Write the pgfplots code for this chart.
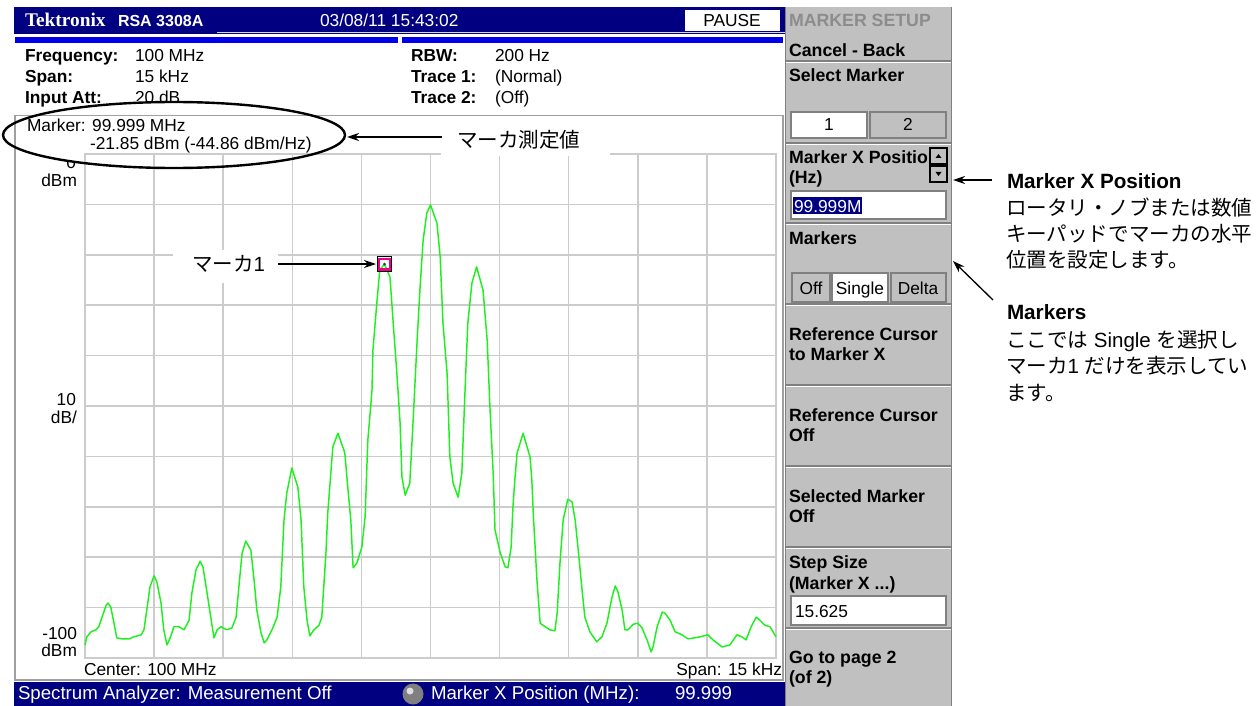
\documentclass[border=0pt]{standalone}
\usepackage{pgfplots}
\usepackage{pgfplotstable}
\pgfplotsset{compat=1.18}
\usepackage{fontspec}
\setmainfont{Liberation Sans}
\newfontfamily\jp{Noto Sans CJK JP}
\newfontfamily\logofont{Liberation Serif}
\usetikzlibrary{arrows.meta}
\definecolor{navy}{RGB}{0,0,128}
\definecolor{bblue}{RGB}{0,0,235}
\definecolor{panel}{RGB}{192,192,192}
\definecolor{gridc}{RGB}{204,204,204}
\definecolor{trace}{RGB}{30,240,30}
\definecolor{dgray}{RGB}{128,128,128}
\definecolor{framec}{RGB}{160,160,160}
\definecolor{greytxt}{RGB}{140,140,140}
\newcommand\fs[1]{\fontsize{#1pt}{#1pt}\selectfont}

\pgfplotstableread{
f dbm
-7.50 -97.4
-7.46 -95.8
-7.37 -94.8
-7.26 -94.4
-7.20 -93.8
-7.13 -91.9
-7.04 -89.5
-7.00 -89.1
-6.94 -89.9
-6.87 -93.1
-6.81 -96.0
-6.70 -96.2
-6.54 -96.2
-6.44 -95.8
-6.28 -95.4
-6.22 -94.4
-6.15 -89.9
-6.09 -85.9
-6.00 -83.7
-5.94 -84.9
-5.85 -89.1
-5.79 -94.4
-5.72 -97.4
-5.65 -96.0
-5.57 -93.8
-5.46 -93.8
-5.35 -94.4
-5.24 -92.5
-5.18 -87.1
-5.09 -82.5
-5.00 -80.8
-4.94 -81.9
-4.85 -87.1
-4.76 -92.5
-4.70 -96.0
-4.63 -94.4
-4.55 -93.8
-4.42 -94.4
-4.31 -94.0
-4.22 -91.9
-4.16 -85.9
-4.09 -79.2
-4.01 -76.8
-3.90 -78.6
-3.83 -84.5
-3.77 -90.5
-3.68 -95.0
-3.61 -97.0
-3.55 -96.4
-3.44 -94.4
-3.33 -91.9
-3.25 -85.9
-3.18 -72.6
-3.12 -67.3
-3.01 -62.3
-2.88 -66.1
-2.81 -72.6
-2.75 -85.9
-2.68 -92.5
-2.62 -95.6
-2.53 -94.4
-2.42 -93.5
-2.36 -91.9
-2.27 -79.2
-2.23 -71.2
-2.12 -58.1
-2.01 -55.4
-1.86 -59.3
-1.79 -66.7
-1.73 -72.6
-1.68 -82.1
-1.60 -81.2
-1.49 -78.0
-1.42 -72.0
-1.36 -56.7
-1.31 -51.4
-1.27 -46.8
-1.25 -38.9
-1.16 -29.0
-1.10 -23.0
-1.00 -21.85
-0.88 -24.4
-0.81 -33.5
-0.73 -43.5
-0.66 -53.4
-0.62 -64.1
-0.55 -67.7
-0.45 -65.3
-0.38 -53.4
-0.29 -36.9
-0.23 -27.0
-0.16 -17.1
-0.08 -11.7
0.00 -10.1
0.14 -13.7
0.21 -20.4
0.27 -33.5
0.36 -43.5
0.42 -60.1
0.49 -65.3
0.60 -68.1
0.68 -63.3
0.75 -46.8
0.81 -33.5
0.90 -25.6
1.00 -22.4
1.14 -27.0
1.23 -36.9
1.29 -50.2
1.36 -63.3
1.40 -74.6
1.51 -79.0
1.62 -81.9
1.68 -82.1
1.75 -78.0
1.79 -70.0
1.83 -64.7
1.88 -59.3
2.01 -55.4
2.16 -60.1
2.20 -64.7
2.23 -71.2
2.31 -84.5
2.38 -93.1
2.49 -93.8
2.59 -94.4
2.70 -94.6
2.75 -91.1
2.81 -81.2
2.88 -72.6
2.98 -68.5
3.07 -69.0
3.14 -72.6
3.20 -78.0
3.29 -86.5
3.35 -91.9
3.46 -94.8
3.61 -96.8
3.72 -95.8
3.83 -93.1
3.94 -87.9
4.01 -85.7
4.07 -86.9
4.16 -90.5
4.22 -94.4
4.29 -94.4
4.40 -93.3
4.50 -93.1
4.59 -94.0
4.70 -96.4
4.79 -98.8
4.83 -97.8
4.92 -93.8
5.03 -90.9
5.09 -91.1
5.20 -92.5
5.31 -94.8
5.46 -95.4
5.59 -96.2
5.74 -96.0
5.85 -95.8
6.02 -95.4
6.13 -96.4
6.33 -97.8
6.50 -97.4
6.65 -95.4
6.76 -95.8
6.85 -96.4
6.96 -93.8
7.07 -91.9
7.15 -92.5
7.26 -93.5
7.37 -93.8
7.50 -95.8
}\tracedata

\begin{document}
\begin{tikzpicture}[x=0.75pt,y=-0.75pt,
  t/.style={anchor=base west, inner sep=0pt, outer sep=0pt},
  tr/.style={anchor=base east, inner sep=0pt, outer sep=0pt},
  tc/.style={anchor=base, inner sep=0pt, outer sep=0pt},
  arr/.style={line width=1pt, -{Stealth[length=9pt,width=6pt]}}]
\path[use as bounding box] (0,0) rectangle (1259,706);

% ---------- title bar ----------
\fill[navy] (14,7) rectangle (785,34);
\draw[white!85!navy, line width=0.75pt] (217,33) -- (785,33);
\fill[bblue] (15,37) rectangle (398,43);
\fill[bblue] (402,37) rectangle (783,43);
\node[t, white] at (25,27) {\logofont\bfseries\fs{14.5}Tektronix};
\node[t, white] at (118,27) {\bfseries\fs{12}RSA 3308A};
\node[t, white] at (320,27) {\fs{13}03/08/11 15:43:02};
\fill[white] (685,10) rectangle (780,31);
\node[tc] at (732,27) {\fs{13}PAUSE};

% ---------- info lines ----------
\node[t] at (25,62) {\bfseries\fs{13}Frequency:};
\node[t] at (135,62) {\fs{13}100 MHz};
\node[t] at (25,83) {\bfseries\fs{13}Span:};
\node[t] at (135,83) {\fs{13}15 kHz};
\node[t] at (25,104) {\bfseries\fs{13}Input Att:};
\begin{scope}
\clip (130,80) rectangle (220,100.5);
\node[t] at (135,104) {\fs{13}20 dB};
\end{scope}
\node[t] at (411,62) {\bfseries\fs{13}RBW:};
\node[t] at (495,62) {\fs{13}200 Hz};
\node[t] at (411,83) {\bfseries\fs{13}Trace 1:};
\node[t] at (495,83) {\fs{13}(Normal)};
\node[t] at (411,104) {\bfseries\fs{13}Trace 2:};
\node[t] at (495,104) {\fs{13}(Off)};

% ---------- plot panel frame ----------
\draw[framec, line width=1pt] (15,115.5) rectangle (783,680);

% ---------- spectrum axis ----------
\begin{scope}[x=1pt,y=1pt]
\begin{axis}[
  at={(63.75pt,-493.5pt)}, anchor=south west,
  scale only axis, width=518.25pt, height=378pt,
  xmin=-7.5, xmax=7.5, ymin=-100, ymax=0,
  xtick={-7.5,-6,-4.5,-3,-1.5,0,1.5,3,4.5,6,7.5},
  ytick={-100,-90,-80,-70,-60,-50,-40,-30,-20,-10,0},
  xticklabels={}, yticklabels={},
  major tick length=0pt,
  grid=major, grid style={gridc, line width=1.1pt},
  axis line style={gridc, line width=1.1pt},
  clip=false]
\addplot[trace, line width=1.1pt, mark=none, line join=round] table[x=f, y=dbm] {\tracedata};
\node[draw=black, line width=0.8pt, minimum size=11pt, inner sep=0pt] at (axis cs:-1,-21.85) {};
\node[draw=magenta, line width=1.6pt, minimum size=8pt, inner sep=0pt] at (axis cs:-1,-21.85) {};
\fill[black!80] (axis cs:-1,-21.85) circle (1.1pt);
\end{axis}
\end{scope}

% y labels
\begin{scope}
\clip (50,163) rectangle (80,172);
\node[tr] at (76,168) {\fs{13}0};
\end{scope}
\node[tr] at (77,186) {\fs{13}dBm};
\node[tr] at (76,405) {\fs{13}10};
\node[tr] at (77,423) {\fs{13}dB/};
\node[tr] at (77,639) {\fs{13}-100};
\node[tr] at (77,656) {\fs{13}dBm};
\node[t] at (84,675) {\fs{13}Center: 100 MHz};
\node[tr] at (782,675) {\fs{13}Span: 15 kHz};

% marker readout
\node[t] at (27,132) {\fs{13}Marker: 99.999 MHz};
\node[t] at (90,150) {\fs{13}-21.85 dBm (-44.86 dBm/Hz)};
\draw[black, line width=1.8pt] (174,135) ellipse [x radius=171, y radius=33];

% annotation: marker reading
\fill[white] (441,118) rectangle (610,156.5);
\draw[arr] (442,137) -- (347,137);
\node[t] at (457,148) {\jp\fs{15.4}マーカ測定値};

% annotation: marker 1
\fill[white] (173,250) rectangle (278,283);
\node[t] at (192,271) {\jp\fs{15.4}マーカ\rmfamily 1};
\draw[arr] (278,264) -- (376,264);

% ---------- status bar ----------
\fill[navy] (14,682) rectangle (785,706);
\node[t, white] at (18,699) {\fs{14}Spectrum Analyzer: Measurement Off};
\fill[dgray] (413,694) circle (10.5);
\fill[gray!25] (410,691) circle (3.5);
\node[t, white] at (431,699) {\fs{14}Marker X Position (MHz):};
\node[t, white] at (675,699) {\fs{14}99.999};

% ---------- right soft-key panel ----------
\fill[panel] (785,7) rectangle (952,706);
\draw[dgray, line width=1pt] (785.5,7) -- (785.5,706);
\draw[dgray, line width=1pt] (951.5,7) -- (951.5,706);
\foreach \yy in {61,143,223,304,385,466,547,628} {
  \draw[dgray, line width=1.5pt] (786,\yy) -- (951,\yy);
  \draw[white, line width=0.8pt] (786,\yy+1.6) -- (951,\yy+1.6);
}
\node[t, greytxt] at (789,27) {\bfseries\fs{13.3}MARKER SETUP};
\node[t] at (789,57) {\bfseries\fs{13.3}Cancel - Back};
\node[t] at (789,82) {\bfseries\fs{13.3}Select Marker};
\fill[white] (791,112) rectangle (867,138);
\draw[dgray, line width=0.8pt] (791,112) rectangle (867,138);
\draw[dgray, line width=0.8pt] (870,112) rectangle (946,138);
\node[tc] at (829,131) {\fs{13}1};
\node[tc] at (908,131) {\fs{13}2};
\begin{scope}
\clip (786,145) rectangle (929,190);
\node[t] at (789,163) {\bfseries\fs{13.3}Marker X Position};
\end{scope}
\node[t] at (789,183) {\bfseries\fs{13.3}(Hz)};
\draw[black, line width=0.8pt, fill=panel] (930,148) rectangle (947,164);
\draw[black, line width=0.8pt, fill=panel] (930,166) rectangle (947,182);
\fill (935.5,158) -- (941.5,158) -- (938.5,154) -- cycle;
\fill (935.5,172) -- (941.5,172) -- (938.5,176) -- cycle;
\fill[white] (791,191) rectangle (946,219);
\draw[dgray, line width=0.8pt] (791,191) rectangle (946,219);
\fill[navy] (793,197) rectangle (862,214);
\node[t, white] at (794,212) {\fs{13}99.999M};
\node[t] at (789,244) {\bfseries\fs{13.3}Markers};
\draw[dgray, line width=0.8pt] (792,273) rectangle (830,302);
\fill[white] (832,273) rectangle (888,302);
\draw[dgray, line width=0.8pt] (832,273) rectangle (888,302);
\draw[dgray, line width=0.8pt] (891,273) rectangle (946,302);
\node[tc] at (811,294) {\fs{13}Off};
\node[tc] at (860,294) {\fs{13}Single};
\node[tc] at (918,294) {\fs{13}Delta};
\node[t] at (789,340) {\bfseries\fs{13.3}Reference Cursor};
\node[t] at (789,360) {\bfseries\fs{13.3}to Marker X};
\node[t] at (789,421) {\bfseries\fs{13.3}Reference Cursor};
\node[t] at (789,441) {\bfseries\fs{13.3}Off};
\node[t] at (789,502) {\bfseries\fs{13.3}Selected Marker};
\node[t] at (789,522) {\bfseries\fs{13.3}Off};
\node[t] at (789,568) {\bfseries\fs{13.3}Step Size};
\node[t] at (789,589) {\bfseries\fs{13.3}(Marker X ...)};
\fill[white] (791,596) rectangle (946,625);
\draw[dgray, line width=0.8pt] (791,596) rectangle (946,625);
\node[t] at (795,617) {\fs{13}15.625};
\node[t] at (789,663) {\bfseries\fs{13.3}Go to page 2};
\node[t] at (789,683) {\bfseries\fs{13.3}(of 2)};

% ---------- right-hand annotations ----------
\draw[arr] (992,180) -- (953,180);
\node[t] at (1007,189) {\bfseries\fs{15.5}Marker X Position};
\node[t] at (1006,215) {\jp\fs{15.4}ロータリ・ノブまたは数値};
\node[t] at (1006,241) {\jp\fs{15.4}キーパッドでマーカの水平};
\node[t] at (1006,267) {\jp\fs{15.4}位置を設定します。};
\draw[arr] (993,300) -- (953,261);
\node[t] at (1007,319) {\bfseries\fs{15.5}Markers};
\node[t] at (1006,347) {\jp\fs{15.4}ここでは\rmfamily\fs{15.4} Single \jp を選択し};
\node[t] at (1006,373) {\jp\fs{15.4}マーカ\rmfamily 1 \jp だけを表示してい};
\node[t] at (1006,400) {\jp\fs{15.4}ます。};
\end{tikzpicture}
\end{document}
